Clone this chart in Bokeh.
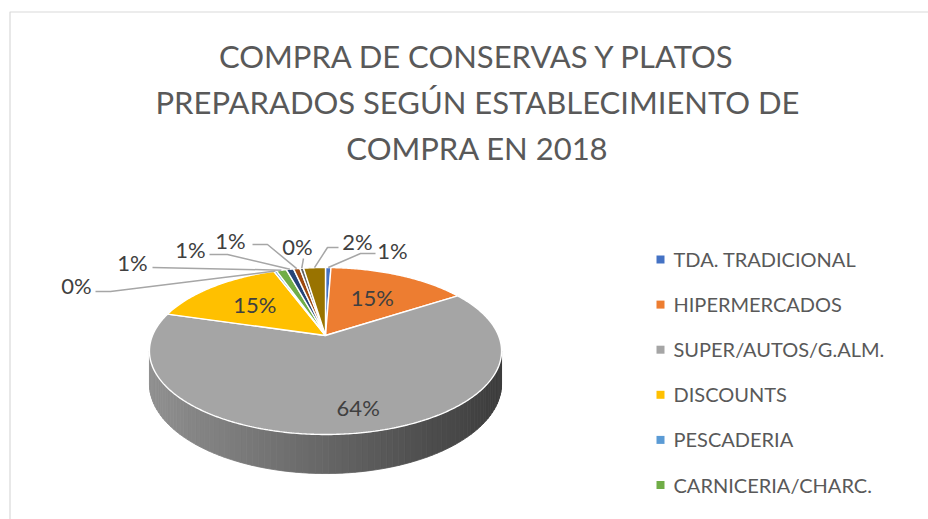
import numpy as np
from bokeh.plotting import figure
from bokeh.models import Range1d
from bokeh.embed import file_html
from bokeh.resources import INLINE
from bokeh.core.properties import value

# ---------------- data ----------------
title_lines = ["COMPRA DE CONSERVAS Y PLATOS",
               "PREPARADOS SEGÚN ESTABLECIMIENTO DE",
               "COMPRA EN 2018"]
categories = ["TDA. TRADICIONAL", "HIPERMERCADOS", "SUPER/AUTOS/G.ALM.", "DISCOUNTS",
              "PESCADERIA", "CARNICERIA/CHARC.", "ECONOMATOS/COOP.", "MERCADOS/PLAZAS",
              "AUTOCONSUMO", "RESTO CANALES"]
shares = [0.6, 15.3, 63.6, 14.8, 0.3, 1.1, 0.8, 0.7, 0.4, 2.4]
colors = ["#4472C4", "#ED7D31", "#A5A5A5", "#FFC000", "#5B9BD5", "#70AD47",
          "#264478", "#9E480E", "#636363", "#997300"]
legend_shown = 6

# ---------------- layout ----------------
FONT = "Lato"
CX, CY = 325.0, 335.0          # projected pie centre (apex)
A, B, K = 173.0, 80.6, 0.1857  # horizontal / vertical scale, perspective factor
T = 31.8                       # thickness

def proj(phi_deg, r=1.0, depth=0.0):
    ph = np.radians(phi_deg)
    d = 1.0 + K * r * np.cos(ph)
    return CX + A * r * np.sin(ph) / d, CY - B * r * np.cos(ph) / d + depth / d

W, H = 928, 519
p = figure(width=W, height=H, x_range=Range1d(0, W), y_range=Range1d(H, 0),
           output_backend="svg", toolbar_location=None, min_border=0)
p.axis.visible = False
p.grid.visible = False
p.outline_line_color = None
p.background_fill_color = "white"
p.border_fill_color = "white"

# chart area frame
p.line([9.5, 9.5, 935], [530, 11.5, 11.5], line_color="#d9d9d9", line_width=1.2)

# title
for i, t in enumerate(title_lines):
    p.text([477], [55.5 + 46 * i], text=[t], text_font=value(FONT), text_font_size="31px",
           text_color="#595959", text_align="center", text_baseline="middle")

# side of pie (gradient strips)
edge = np.degrees(np.arccos(-K))
phis = np.linspace(edge, 360 - edge, 90)
xl, xr = proj(360 - edge)[0], proj(edge)[0]
xs_s, ys_s, cs_s = [], [], []
for a0, a1 in zip(phis[:-1], phis[1:]):
    x0, y0 = proj(a0)
    x1, y1 = proj(a1)
    x0b, y0b = proj(a0, depth=T)
    x1b, y1b = proj(a1, depth=T)
    f = ((x0 + x1) / 2 - xl) / (xr - xl)
    f = min(max(f, 0), 1)
    g = int(round(144 - (144 - 60) * f))
    c = "#%02x%02x%02x" % (g, g, g)
    xs_s.append([x0, x1, x1b, x0b])
    ys_s.append([y0, y1, y1b, y0b])
    cs_s.append(c)
p.patches(xs_s, ys_s, fill_color=cs_s, line_color=cs_s, line_width=0.8)

# top face slices
cum = np.concatenate([[0], np.cumsum(shares)])
total = cum[-1]
xs_t, ys_t = [], []
mids = []
for i in range(len(shares)):
    a0 = cum[i] / total * 360
    a1 = cum[i + 1] / total * 360
    n = max(3, int((a1 - a0) * 1.5))
    angs = np.linspace(a0, a1, n)
    px, py = proj(angs)
    xs_t.append([CX] + list(px))
    ys_t.append([CY] + list(py))
    mids.append((a0 + a1) / 2)
p.patches(xs_t, ys_t, fill_color=colors, line_color="white", line_width=1.4)

labels = [f"{round(v)}%" for v in shares]

# inside labels
inside = {1: (0.6, 0, 0), 2: (0.78, 10, -1), 3: (0.6, 0, 0)}
for i, (r, dx, dy) in inside.items():
    x, y = proj(mids[i], r)
    p.text([x + dx], [y + dy], text=[labels[i]], text_font=value(FONT), text_font_size="22px",
           text_color="#404040", text_align="center", text_baseline="middle")

# outside labels with leader lines
outside = {0: ((392, 250), [(360, 253), (375, 253)]),
           9: ((357, 241), [(327, 247), (338, 247)]),
           8: ((297, 246), [(303, 258)]),
           7: ((230, 240), [(267, 244), (252, 244)]),
           6: ((190, 249), [(227, 254), (209, 254)]),
           5: ((132, 262), [(152, 267)]),
           4: ((76, 285), [(110, 291), (95, 291)])}
for i, ((tx, ty), pts) in outside.items():
    rx, ry = proj(mids[i])
    lx = [rx] + [q[0] for q in pts]
    ly = [ry] + [q[1] for q in pts]
    p.line(lx, ly, line_color="#a6a6a6", line_width=1.5)
    p.text([tx], [ty], text=[labels[i]], text_font=value(FONT), text_font_size="22px",
           text_color="#404040", text_align="center", text_baseline="middle")

# legend
ly0, lstep = 258.5, 45.1
for i in range(legend_shown):
    y = ly0 + lstep * i
    p.rect([660], [y + 0.5], width=8, height=8, fill_color=colors[i], line_color=None)
    p.text([673], [y], text=[categories[i]], text_font=value(FONT), text_font_size="20px",
           text_color="#595959", text_align="left", text_baseline="middle")

open("out.html", "w").write(file_html(p, INLINE))
